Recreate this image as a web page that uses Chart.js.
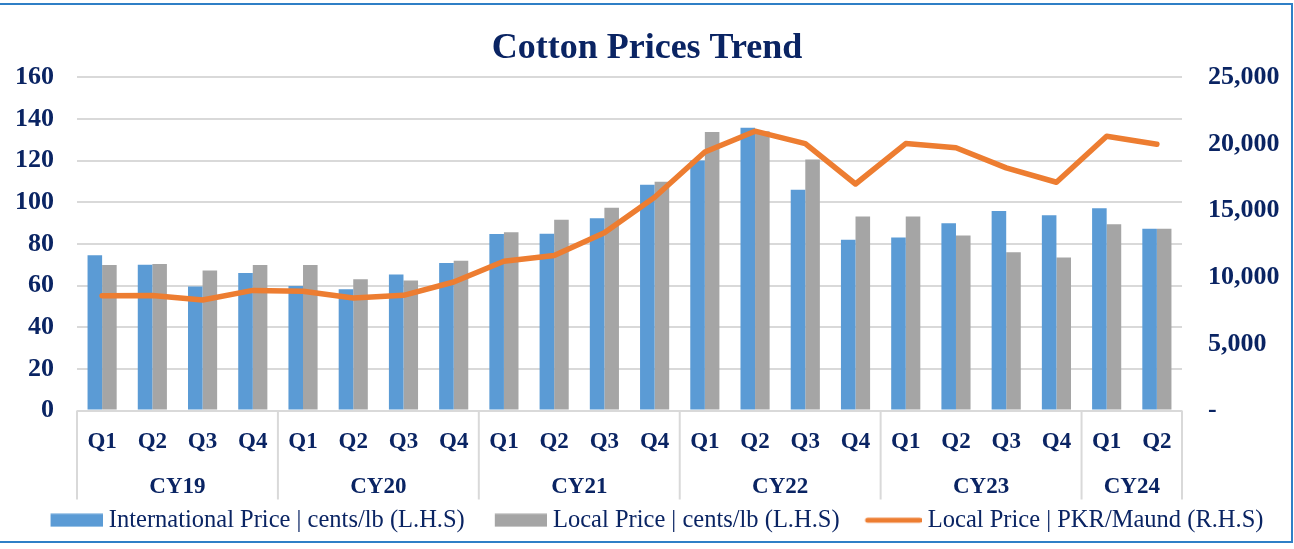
<!DOCTYPE html>
<html>
<head>
<meta charset="utf-8">
<title>Cotton Prices Trend</title>
<script src="https://cdn.jsdelivr.net/npm/chart.js@4.4.1/dist/chart.umd.min.js"></script>
<style>
  html, body { margin: 0; padding: 0; background: #fff; }
  #wrap { position: relative; width: 1294px; height: 549px; overflow: hidden; }
  #frame { position: absolute; left: -2px; top: 3px; width: 1295px; height: 540px;
           border: 2px solid #2f7fc6; box-sizing: border-box; pointer-events: none; }
</style>
</head>
<body>
<div id="wrap">
  <canvas id="myChart" width="1294" height="549"></canvas>
  <div id="frame"></div>
</div>
<script>
'use strict';

// data
var quarters = ['Q1', 'Q2', 'Q3', 'Q4', 'Q1', 'Q2', 'Q3', 'Q4', 'Q1', 'Q2', 'Q3', 'Q4',
                'Q1', 'Q2', 'Q3', 'Q4', 'Q1', 'Q2', 'Q3', 'Q4', 'Q1', 'Q2'];
var years = ['CY19', 'CY20', 'CY21', 'CY22', 'CY23', 'CY24'];
var yearSpans = [4, 4, 4, 4, 4, 2];

var intlPrice = [74.5, 70, 59.5, 66, 59.8, 58.2, 65.3, 70.8, 84.7, 84.8, 92.3, 108.4,
                 120, 135.7, 106, 82, 83, 89.9, 95.8, 93.7, 97.1, 87.3];
var localPrice = [69.8, 70.3, 67.2, 69.8, 69.8, 63, 62.4, 71.9, 85.6, 91.6, 97.3, 109.8,
                  133.7, 134, 120.5, 93.1, 93.1, 84, 76, 73.5, 89.4, 87.3];
var localPkr = [8610, 8620, 8290, 9010, 8940, 8440, 8640, 9640, 11200, 11630, 13340, 15990,
                19390, 20950, 20020, 16990, 20020, 19710, 18200, 17120, 20570, 19970];

var leftMax = 160, leftStep = 20;
var rightMax = 25000, rightStep = 5000;

var navy = '#0a2463';
var serif = '"Liberation Serif", "Times New Roman", serif';

// legend swatches (drawn as images so bars get boxes and the line gets a stroke)
function legendIcon(color, isLine) {
  var c = document.createElement('canvas');
  c.width = 78; c.height = 14;
  var g = c.getContext('2d');
  if (isLine) {
    g.strokeStyle = color; g.lineWidth = 5; g.lineCap = 'round';
    g.beginPath(); g.moveTo(24, 7); g.lineTo(76, 7); g.stroke();
  } else {
    g.fillStyle = color; g.fillRect(26, 0.5, 52, 13);
  }
  return c;
}
var icons = [legendIcon('#5b9bd5'), legendIcon('#a5a5a5'), legendIcon('#ed7d31', true)];

// year row under the quarter labels
var groupAxis = {
  id: 'groupAxis',
  afterDraw: function (chart) {
    var x = chart.scales.x, ctx = chart.ctx;
    var step = x.getPixelForValue(1) - x.getPixelForValue(0);
    var top = chart.chartArea.bottom, bottom = top + 89;
    ctx.save();
    ctx.strokeStyle = '#d9d9d9';
    ctx.lineWidth = 2;
    ctx.font = 'bold 23px ' + serif;
    ctx.fillStyle = navy;
    ctx.textAlign = 'center';
    ctx.textBaseline = 'middle';
    var start = 0;
    for (var i = 0; i < years.length; i++) {
      var end = start + yearSpans[i];
      var x0 = x.getPixelForValue(start) - step / 2;
      var x1 = x.getPixelForValue(end - 1) + step / 2;
      ctx.beginPath(); ctx.moveTo(x0, top); ctx.lineTo(x0, bottom); ctx.stroke();
      if (i === years.length - 1) {
        ctx.beginPath(); ctx.moveTo(x1, top); ctx.lineTo(x1, bottom); ctx.stroke();
      }
      ctx.fillText(years[i], (x0 + x1) / 2, top + 77);
      start = end;
    }
    ctx.restore();
  }
};

var ctx = document.getElementById('myChart').getContext('2d');
var chart = new Chart(ctx, {
  type: 'bar',
  data: {
    labels: quarters,
    datasets: [{
      label: 'International Price | cents/lb (L.H.S)',
      data: intlPrice,
      backgroundColor: '#5b9bd5',
      yAxisID: 'y',
      order: 1
    }, {
      label: 'Local Price | cents/lb (L.H.S)',
      data: localPrice,
      backgroundColor: '#a5a5a5',
      yAxisID: 'y',
      order: 1
    }, {
      type: 'line',
      label: 'Local Price | PKR/Maund (R.H.S)',
      data: localPkr,
      borderColor: '#ed7d31',
      backgroundColor: '#ed7d31',
      borderWidth: 5.5,
      borderCapStyle: 'round',
      borderJoinStyle: 'round',
      pointRadius: 0,
      tension: 0,
      yAxisID: 'y1',
      order: 0
    }]
  },
  options: {
    responsive: false,
    animation: false,
    devicePixelRatio: 1,
    datasets: {
      bar: { categoryPercentage: 0.58, barPercentage: 1.0 }
    },
    layout: { padding: { top: 0, left: 0, right: 0, bottom: 6.5 } },
    plugins: {
      title: {
        display: true,
        text: 'Cotton Prices Trend',
        color: navy,
        font: { family: serif, size: 36, weight: 'bold' },
        padding: { top: 27, bottom: 7 }
      },
      legend: {
        display: true,
        position: 'bottom',
        labels: {
          color: navy,
          font: { family: serif, size: 24.5 },
          usePointStyle: true,
          pointStyleWidth: 66,
          boxHeight: 14,
          padding: 10,
          generateLabels: function (chart) {
            var items = Chart.defaults.plugins.legend.labels.generateLabels(chart);
            items.sort(function (a, b) { return a.datasetIndex - b.datasetIndex; });
            items.forEach(function (it) { it.pointStyle = icons[it.datasetIndex]; });
            return items;
          }
        }
      },
      tooltip: { enabled: false }
    },
    scales: {
      x: {
        grid: { display: false, drawTicks: false },
        border: { display: false },
        ticks: {
          color: navy,
          font: { family: serif, size: 23, weight: 'bold' },
          padding: 18,
          maxRotation: 0,
          autoSkip: false
        },
        afterFit: function (scale) { scale.height = 87.5; }
      },
      y: {
        position: 'left',
        min: 0,
        max: leftMax,
        grid: { color: '#d9d9d9', lineWidth: 2, drawTicks: false },
        border: { display: false },
        ticks: {
          stepSize: leftStep,
          color: navy,
          font: { family: serif, size: 26, weight: 'bold' },
          padding: 23
        },
        afterFit: function (scale) { scale.width = 77; }
      },
      y1: {
        position: 'right',
        min: 0,
        max: rightMax,
        grid: { drawOnChartArea: false, drawTicks: false },
        border: { display: false },
        ticks: {
          stepSize: rightStep,
          color: navy,
          font: { family: serif, size: 26, weight: 'bold' },
          padding: 26,
          callback: function (v) { return v === 0 ? '-' : v.toLocaleString('en-US'); }
        },
        afterFit: function (scale) { scale.width = 112; }
      }
    }
  },
  plugins: [groupAxis]
});
</script>
</body>
</html>
